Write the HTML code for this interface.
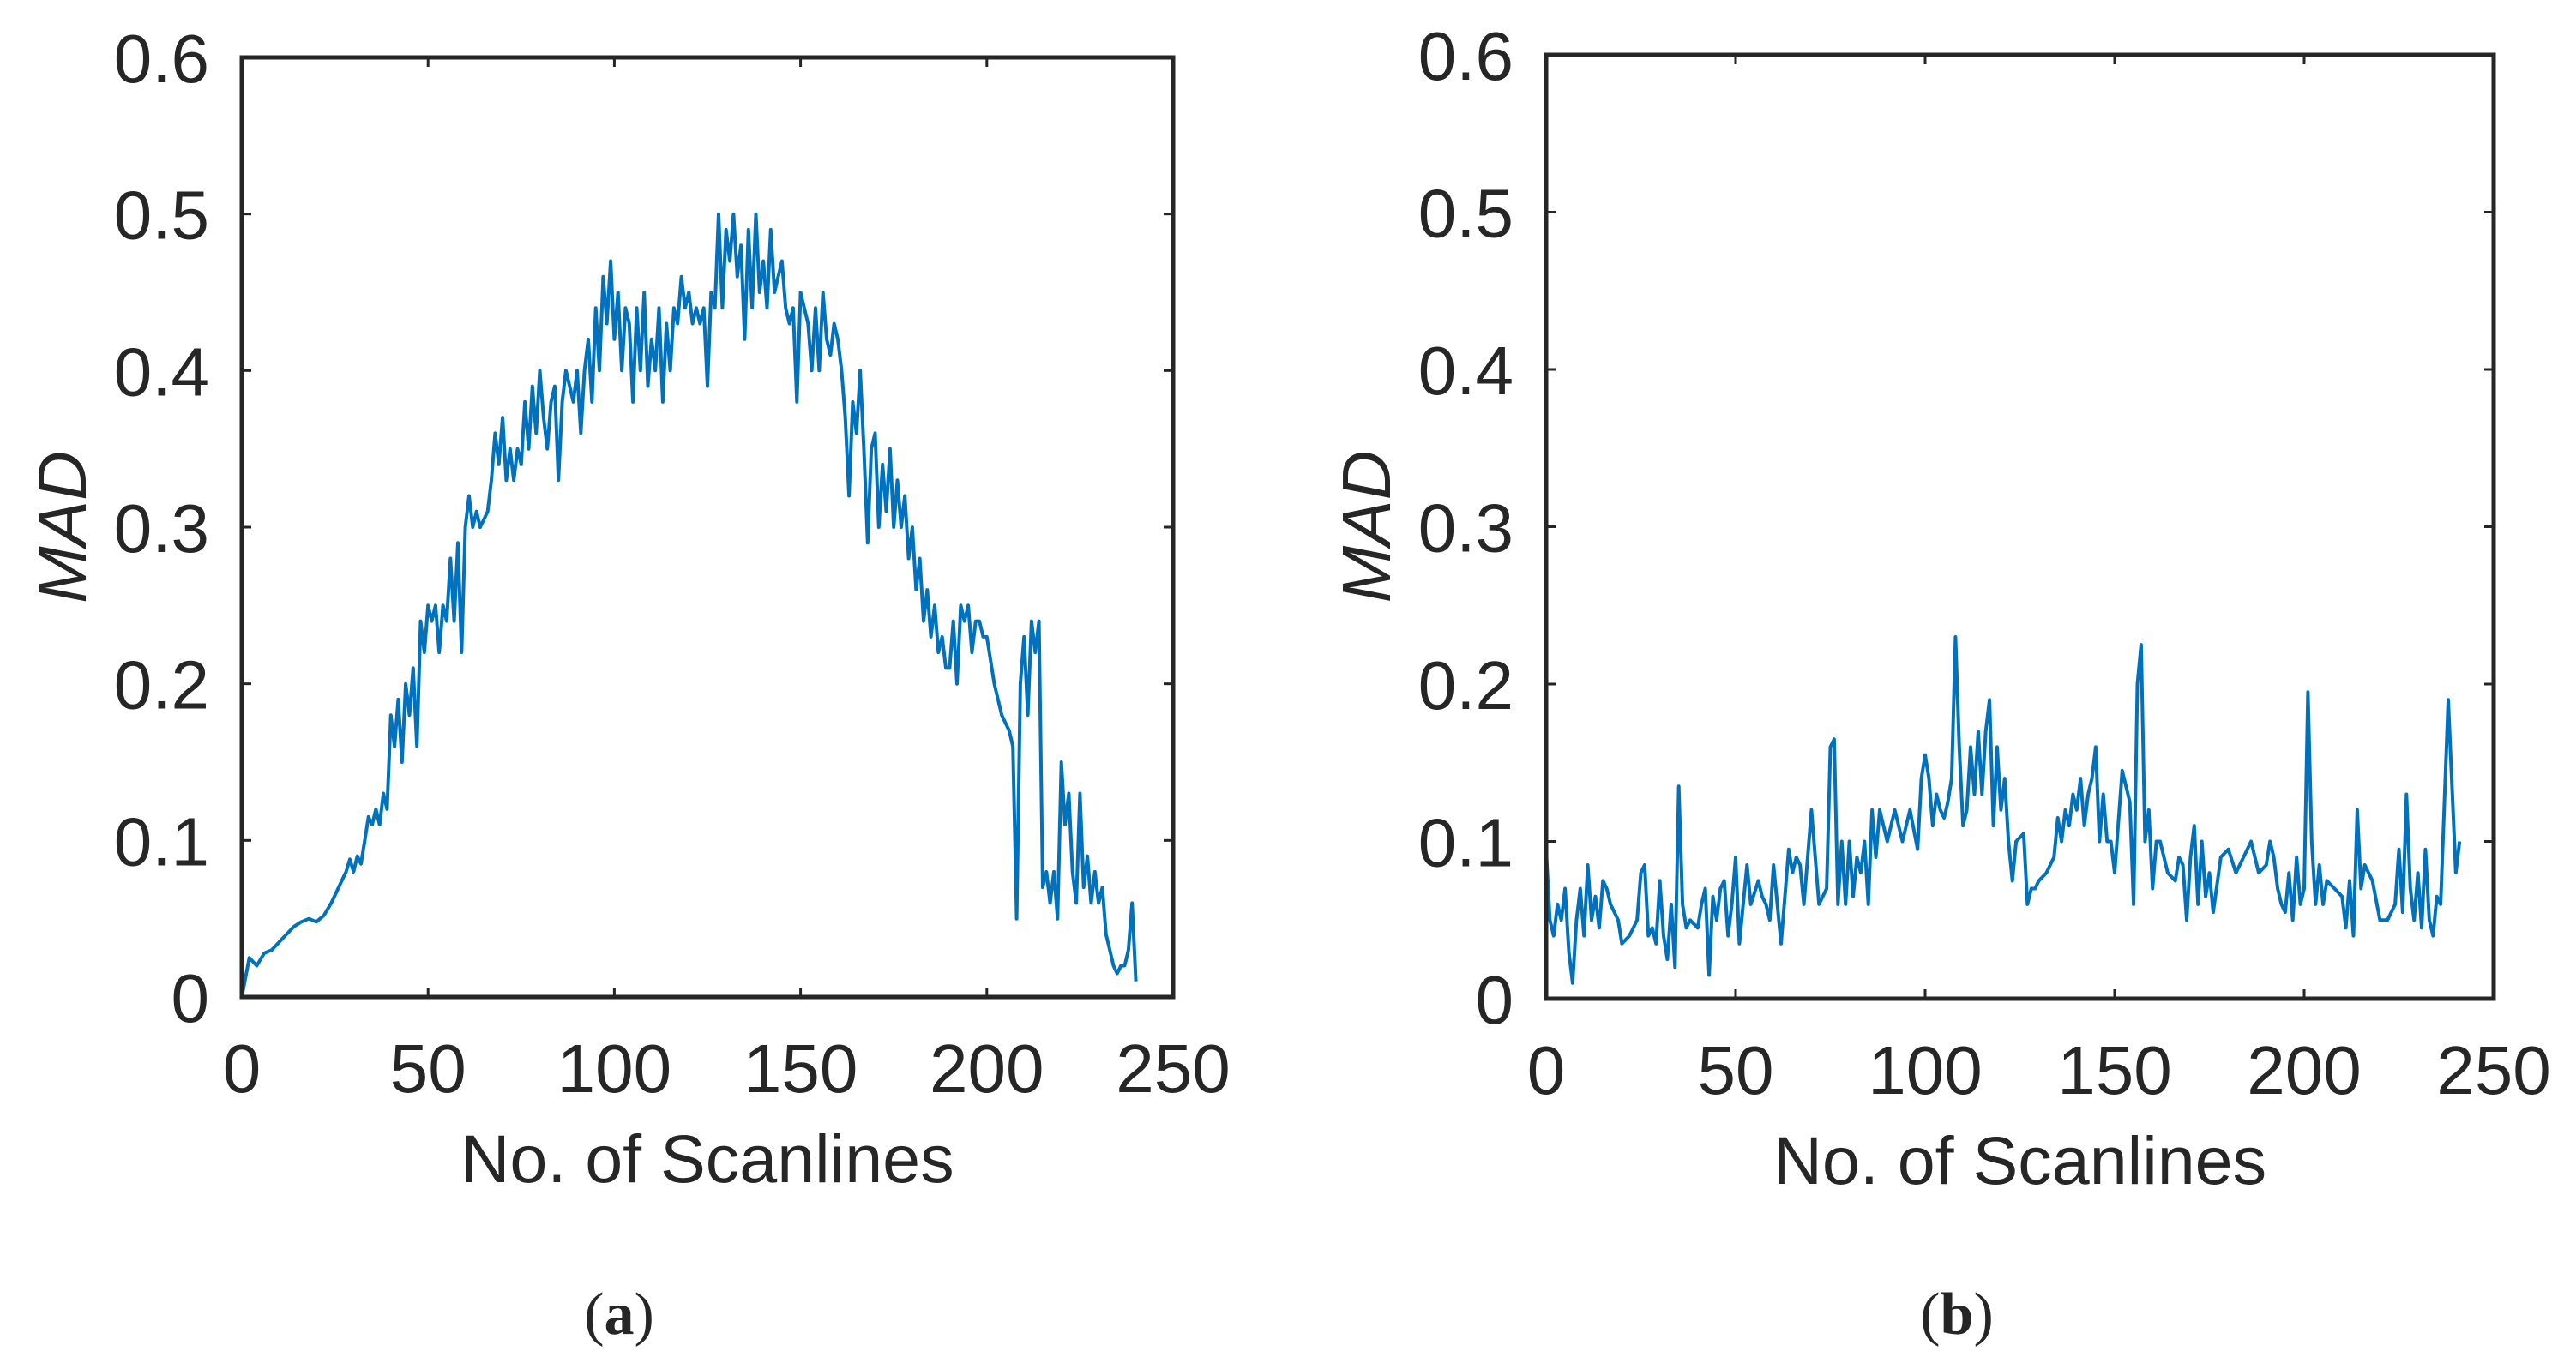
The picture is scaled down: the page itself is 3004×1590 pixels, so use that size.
<!DOCTYPE html>
<html><head><meta charset="utf-8"><style>
html,body{margin:0;padding:0;background:#fff;}
svg{display:block;}
text{font-family:"Liberation Sans",sans-serif;fill:#262626;}
</style></head><body>
<svg id="fig" width="3004" height="1590" viewBox="0 0 3004 1590" xmlns="http://www.w3.org/2000/svg"></svg>
<script>
const xTicks=[0,50,100,150,200,250];
const yTicks=[0,0.1,0.2,0.3,0.4,0.5,0.6];
const yTickLabels=["0","0.1","0.2","0.3","0.4","0.5","0.6"];
const xA=[0,2,4,6,8,10,12,14,16,18,20,22,24,26,28,29,30,31,32,33,34,35,36,37,38,39,40,41,42,43,44,45,46,47,48,49,50,51,52,53,54,55,56,57,58,59,60,61,62,63,64,66,67,68,69,70,71,72,73,74,75,76,77,78,79,80,81,82,83,84,85,86,87,88,89,90,91,92,93,94,95,96,97,98,99,100,101,102,103,104,105,106,107,108,109,110,111,112,113,114,115,116,117,118,119,120,121,122,123,124,125,126,127,128,129,130,131,132,133,134,135,136,137,138,139,140,141,142,143,144,145,146,147,148,149,150,151,152,153,154,155,156,157,158,159,160,161,162,163,164,165,166,167,168,169,170,171,172,173,174,175,176,177,178,179,180,181,182,183,184,185,186,187,188,189,190,191,192,193,194,195,196,197,198,199,200,202,204,206,207,208,209,210,211,212,213,214,215,216,217,218,219,220,221,222,223,224,225,226,227,228,229,230,231,232,233,234,235,236,237,238,239,240];
const yA=[0,0.025,0.02,0.028,0.03,0.035,0.04,0.045,0.048,0.05,0.048,0.052,0.06,0.07,0.08,0.088,0.08,0.09,0.085,0.1,0.115,0.11,0.12,0.11,0.13,0.12,0.18,0.16,0.19,0.15,0.2,0.18,0.21,0.16,0.24,0.22,0.25,0.24,0.25,0.22,0.25,0.24,0.28,0.24,0.29,0.22,0.3,0.32,0.3,0.31,0.3,0.31,0.33,0.36,0.34,0.37,0.33,0.35,0.33,0.35,0.34,0.38,0.35,0.39,0.36,0.4,0.37,0.35,0.38,0.39,0.33,0.38,0.4,0.39,0.38,0.4,0.36,0.4,0.42,0.38,0.44,0.4,0.46,0.43,0.47,0.42,0.45,0.4,0.44,0.43,0.38,0.44,0.4,0.45,0.39,0.42,0.4,0.44,0.38,0.43,0.4,0.44,0.43,0.46,0.44,0.45,0.43,0.44,0.43,0.44,0.39,0.45,0.44,0.5,0.44,0.49,0.47,0.5,0.46,0.48,0.42,0.49,0.44,0.5,0.45,0.47,0.44,0.49,0.45,0.46,0.47,0.44,0.43,0.44,0.38,0.45,0.44,0.43,0.4,0.44,0.4,0.45,0.42,0.41,0.43,0.42,0.4,0.37,0.32,0.38,0.36,0.4,0.35,0.29,0.35,0.36,0.3,0.34,0.31,0.35,0.3,0.33,0.3,0.32,0.28,0.3,0.26,0.28,0.24,0.26,0.23,0.25,0.22,0.23,0.21,0.21,0.24,0.2,0.25,0.24,0.25,0.22,0.24,0.24,0.23,0.23,0.2,0.18,0.17,0.16,0.05,0.2,0.23,0.18,0.24,0.22,0.24,0.07,0.08,0.06,0.08,0.05,0.15,0.11,0.13,0.08,0.06,0.13,0.07,0.09,0.06,0.08,0.06,0.07,0.04,0.03,0.02,0.015,0.02,0.02,0.03,0.06,0.01];
const xB=[0,1,2,3,4,5,6,7,8,9,10,11,12,13,14,15,16,17,18,19,20,22,24,25,26,27,28,29,30,31,32,33,34,35,36,37,38,40,41,42,43,44,45,46,47,48,49,50,51,52,53,54,56,57,58,59,60,62,64,65,66,67,68,70,72,74,75,76,77,78,79,80,81,82,83,84,85,86,87,88,90,92,94,96,98,99,100,101,102,103,104,105,106,107,108,109,110,111,112,113,114,115,116,117,118,119,120,121,122,123,124,126,127,128,129,130,132,134,135,136,137,138,139,140,141,142,143,144,145,146,147,148,149,150,152,154,155,156,157,158,159,160,161,162,164,166,167,168,169,170,171,172,173,174,175,176,178,180,182,184,186,188,190,191,192,193,194,195,196,197,198,199,200,201,202,203,204,205,206,208,210,211,212,213,214,215,216,218,220,222,224,225,226,227,228,229,230,231,232,233,234,235,236,238,240,241,242];
const yB=[0.095,0.05,0.04,0.06,0.05,0.07,0.03,0.01,0.05,0.07,0.04,0.085,0.05,0.065,0.045,0.075,0.07,0.06,0.055,0.05,0.035,0.04,0.05,0.08,0.085,0.04,0.045,0.035,0.075,0.04,0.025,0.06,0.02,0.135,0.06,0.045,0.05,0.045,0.06,0.07,0.015,0.065,0.05,0.07,0.075,0.04,0.06,0.09,0.035,0.06,0.085,0.06,0.075,0.065,0.06,0.05,0.085,0.035,0.095,0.08,0.09,0.085,0.06,0.12,0.06,0.07,0.16,0.165,0.06,0.1,0.06,0.1,0.065,0.09,0.08,0.1,0.06,0.12,0.09,0.12,0.1,0.12,0.1,0.12,0.095,0.14,0.155,0.14,0.11,0.13,0.12,0.115,0.125,0.14,0.23,0.16,0.11,0.12,0.16,0.13,0.17,0.13,0.17,0.19,0.11,0.16,0.12,0.14,0.1,0.075,0.1,0.105,0.06,0.07,0.07,0.075,0.08,0.09,0.115,0.1,0.12,0.11,0.13,0.12,0.14,0.11,0.13,0.14,0.16,0.1,0.13,0.1,0.1,0.08,0.145,0.125,0.06,0.2,0.225,0.1,0.12,0.07,0.1,0.1,0.08,0.075,0.09,0.085,0.05,0.09,0.11,0.06,0.1,0.065,0.08,0.055,0.09,0.095,0.08,0.09,0.1,0.08,0.085,0.1,0.09,0.07,0.06,0.055,0.08,0.05,0.09,0.06,0.07,0.195,0.1,0.06,0.085,0.06,0.075,0.07,0.065,0.045,0.075,0.04,0.12,0.07,0.085,0.075,0.05,0.05,0.06,0.095,0.055,0.13,0.07,0.05,0.08,0.045,0.095,0.05,0.04,0.065,0.06,0.19,0.08,0.1];

const NS='http://www.w3.org/2000/svg';
const svg=document.getElementById('fig');
function el(tag,attrs,parent){const e=document.createElementNS(NS,tag);for(const k in attrs)e.setAttribute(k,attrs[k]);(parent||svg).appendChild(e);return e;}

function panel(id,L,R,T,B,xs,ys,cap,capX){
  const g=el('g',{});
  
  
  const sx=v=>L+(v-0)/(250-0)*(R-L);
  const sy=v=>B-(v-0)/(0.6-0)*(B-T);
  let d='';
  for(let i=0;i<xs.length;i++){d+=(i?'L':'M')+sx(xs[i]).toFixed(1)+' '+sy(ys[i]).toFixed(1);}
  const line=el('path',{d:d,fill:'none',stroke:'#0072BD','stroke-width':4,'stroke-linejoin':'round'},g);
  
  
  const box=el('rect',{x:L,y:T,width:R-L,height:B-T,fill:'none',stroke:'#262626','stroke-width':5},g);
  
  
  xTicks.forEach(v=>{
    const x=sx(v);
    el('line',{x1:x,y1:B,x2:x,y2:B-11,stroke:'#262626','stroke-width':3},g);
    el('line',{x1:x,y1:T,x2:x,y2:T+11,stroke:'#262626','stroke-width':3},g);
    const t=el('text',{x:x,y:B+111,'font-size':80,'text-anchor':'middle'},g);
    t.textContent=String(v);
    
    
  });
  yTicks.forEach((v,i)=>{
    const y=sy(v);
    el('line',{x1:L,y1:y,x2:L+11,y2:y,stroke:'#262626','stroke-width':3},g);
    el('line',{x1:R,y1:y,x2:R-11,y2:y,stroke:'#262626','stroke-width':3},g);
    const t=el('text',{x:L-38,y:y+29,'font-size':80,'text-anchor':'end'},g);
    t.textContent=yTickLabels[i];
    
    
  });
  const xl=el('text',{x:(L+R)/2,y:B+216,'font-size':79,'text-anchor':'middle'},g);
  xl.textContent='No. of Scanlines';
  
  
  const yl=el('text',{x:0,y:0,'font-size':80,'font-style':'italic','text-anchor':'middle',transform:`translate(${L-182},${(T+B)/2}) rotate(-90)`},g);
  yl.textContent='MAD';
  
  
  const c=el('text',{x:capX,y:1556,'font-size':70,'text-anchor':'middle'},g);
  c.setAttribute('style','font-family:"Liberation Serif",serif;');
  
  
  c.appendChild(document.createTextNode('('));
  const b=el('tspan',{'font-weight':'bold'},c);b.textContent=cap;
  c.appendChild(document.createTextNode(')'));
}
panel('panel-a',282,1368,67,1163,xA,yA,'a',722);
panel('panel-b',1803,2908,64,1165,xB,yB,'b',2282);
</script>
</body></html>
